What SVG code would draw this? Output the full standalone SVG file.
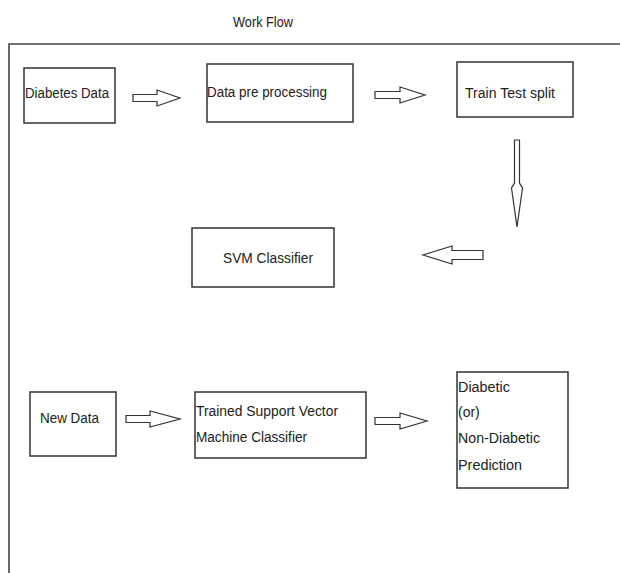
<svg xmlns="http://www.w3.org/2000/svg" width="620" height="573" viewBox="0 0 620 573">
<style>
.box{fill:#fff;stroke:#333;stroke-width:1.5}
.t{font-family:"Liberation Sans",Arial,sans-serif;font-size:14px;fill:#222}
.arr{fill:#fff;stroke:#333;stroke-width:1.2;stroke-linejoin:miter}
.frame{fill:none;stroke:#444;stroke-width:1.6}
</style>
<rect width="620" height="573" fill="#fff"/>
<text class="t" x="233" y="27" textLength="60" lengthAdjust="spacingAndGlyphs">Work Flow</text>
<path class="frame" d="M9,573 V44 H620"/>
<g id="diabetes-data">
<rect class="box" x="24" y="68" width="91" height="55"/>
<text class="t" x="25" y="98" textLength="84" lengthAdjust="spacingAndGlyphs">Diabetes Data</text>
</g>
<g id="data-pre-processing">
<rect class="box" x="207" y="64" width="146" height="58"/>
<text class="t" x="207" y="97" textLength="120" lengthAdjust="spacingAndGlyphs">Data pre processing</text>
</g>
<g id="train-test-split">
<rect class="box" x="457" y="62" width="116" height="55"/>
<text class="t" x="465" y="98" textLength="90" lengthAdjust="spacingAndGlyphs">Train Test split</text>
</g>
<g id="svm-classifier">
<rect class="box" x="192" y="228" width="142" height="59"/>
<text class="t" x="223" y="263" textLength="90" lengthAdjust="spacingAndGlyphs">SVM Classifier</text>
</g>
<g id="new-data">
<rect class="box" x="30" y="392" width="86" height="64"/>
<text class="t" x="40" y="423" textLength="59" lengthAdjust="spacingAndGlyphs">New Data</text>
</g>
<g id="trained-svm">
<rect class="box" x="195" y="392" width="171" height="66"/>
<text class="t" x="196" y="416" textLength="142" lengthAdjust="spacingAndGlyphs">Trained Support Vector</text>
<text class="t" x="196" y="442" textLength="111" lengthAdjust="spacingAndGlyphs">Machine Classifier</text>
</g>
<g id="prediction">
<rect class="box" x="457" y="372" width="111" height="116"/>
<text class="t" x="458" y="392" textLength="52" lengthAdjust="spacingAndGlyphs">Diabetic</text>
<text class="t" x="458" y="417">(or)</text>
<text class="t" x="458" y="443" textLength="82" lengthAdjust="spacingAndGlyphs">Non-Diabetic</text>
<text class="t" x="458" y="470" textLength="64" lengthAdjust="spacingAndGlyphs">Prediction</text>
</g>
<g id="connectors">
<polygon class="arr" points="133,94.5 157,94.5 157,90 180,98 157,106 157,101.5 133,101.5"/>
<polygon class="arr" points="375,91.5 400,91.5 400,87 425,95 400,103 400,98.5 375,98.5"/>
<polygon class="arr" points="514.5,140 519.5,140 519.5,183 522.5,188 517,227 511.5,188 514.5,183"/>
<polygon class="arr" points="483,250.5 452,250.5 452,246 423,255 452,264 452,259.5 483,259.5"/>
<polygon class="arr" points="126,415.5 150,415.5 150,411 180,419 150,427 150,422.5 126,422.5"/>
<polygon class="arr" points="375,417.5 400,417.5 400,413 427,421 400,429 400,424.5 375,424.5"/>
</g>
</svg>
